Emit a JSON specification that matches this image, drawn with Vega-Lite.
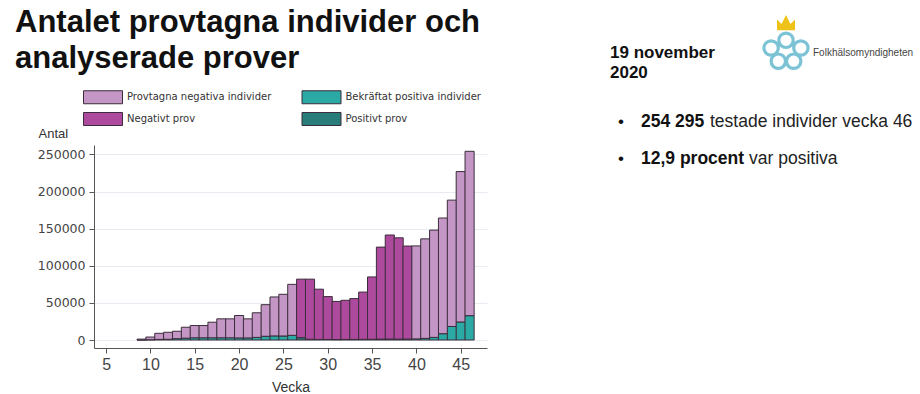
{
  "$schema": "https://vega.github.io/schema/vega-lite/v6.json",
  "width": 393,
  "height": 203,
  "autosize": {"type": "none"},
  "padding": {"left": 94, "top": 145, "right": 433, "bottom": 46},
  "background": "white",
  "title": {
    "text": ["Antalet provtagna individer och", "analyserade prover"],
    "anchor": "start",
    "frame": "group",
    "font": "Liberation Sans",
    "fontSize": 31,
    "fontWeight": "bold",
    "color": "#111111",
    "lineHeight": 36,
    "dx": -79,
    "dy": 70,
    "offset": 10
  },
  "config": {"view": {"stroke": null}},
  "datasets": {
    "tester": [
      {"vecka": 9, "kategori": "Bekräftat positiva individer", "typ": "positiv", "antal": 100},
      {"vecka": 9, "kategori": "Provtagna negativa individer", "typ": "negativ", "antal": 1100},
      {"vecka": 10, "kategori": "Bekräftat positiva individer", "typ": "positiv", "antal": 400},
      {"vecka": 10, "kategori": "Provtagna negativa individer", "typ": "negativ", "antal": 3600},
      {"vecka": 11, "kategori": "Bekräftat positiva individer", "typ": "positiv", "antal": 800},
      {"vecka": 11, "kategori": "Provtagna negativa individer", "typ": "negativ", "antal": 8200},
      {"vecka": 12, "kategori": "Bekräftat positiva individer", "typ": "positiv", "antal": 1000},
      {"vecka": 12, "kategori": "Provtagna negativa individer", "typ": "negativ", "antal": 9400},
      {"vecka": 13, "kategori": "Bekräftat positiva individer", "typ": "positiv", "antal": 1800},
      {"vecka": 13, "kategori": "Provtagna negativa individer", "typ": "negativ", "antal": 10000},
      {"vecka": 14, "kategori": "Bekräftat positiva individer", "typ": "positiv", "antal": 2500},
      {"vecka": 14, "kategori": "Provtagna negativa individer", "typ": "negativ", "antal": 14700},
      {"vecka": 15, "kategori": "Bekräftat positiva individer", "typ": "positiv", "antal": 3000},
      {"vecka": 15, "kategori": "Provtagna negativa individer", "typ": "negativ", "antal": 16500},
      {"vecka": 16, "kategori": "Bekräftat positiva individer", "typ": "positiv", "antal": 3000},
      {"vecka": 16, "kategori": "Provtagna negativa individer", "typ": "negativ", "antal": 16500},
      {"vecka": 17, "kategori": "Bekräftat positiva individer", "typ": "positiv", "antal": 3000},
      {"vecka": 17, "kategori": "Provtagna negativa individer", "typ": "negativ", "antal": 21000},
      {"vecka": 18, "kategori": "Bekräftat positiva individer", "typ": "positiv", "antal": 3000},
      {"vecka": 18, "kategori": "Provtagna negativa individer", "typ": "negativ", "antal": 25500},
      {"vecka": 19, "kategori": "Bekräftat positiva individer", "typ": "positiv", "antal": 3000},
      {"vecka": 19, "kategori": "Provtagna negativa individer", "typ": "negativ", "antal": 25500},
      {"vecka": 20, "kategori": "Bekräftat positiva individer", "typ": "positiv", "antal": 2800},
      {"vecka": 20, "kategori": "Provtagna negativa individer", "typ": "negativ", "antal": 30200},
      {"vecka": 21, "kategori": "Bekräftat positiva individer", "typ": "positiv", "antal": 2800},
      {"vecka": 21, "kategori": "Provtagna negativa individer", "typ": "negativ", "antal": 25700},
      {"vecka": 22, "kategori": "Bekräftat positiva individer", "typ": "positiv", "antal": 3500},
      {"vecka": 22, "kategori": "Provtagna negativa individer", "typ": "negativ", "antal": 33200},
      {"vecka": 23, "kategori": "Bekräftat positiva individer", "typ": "positiv", "antal": 5000},
      {"vecka": 23, "kategori": "Provtagna negativa individer", "typ": "negativ", "antal": 42600},
      {"vecka": 24, "kategori": "Bekräftat positiva individer", "typ": "positiv", "antal": 5500},
      {"vecka": 24, "kategori": "Provtagna negativa individer", "typ": "negativ", "antal": 52500},
      {"vecka": 25, "kategori": "Bekräftat positiva individer", "typ": "positiv", "antal": 5400},
      {"vecka": 25, "kategori": "Provtagna negativa individer", "typ": "negativ", "antal": 56200},
      {"vecka": 26, "kategori": "Bekräftat positiva individer", "typ": "positiv", "antal": 6300},
      {"vecka": 26, "kategori": "Provtagna negativa individer", "typ": "negativ", "antal": 68700},
      {"vecka": 27, "kategori": "Positivt prov", "typ": "positiv", "antal": 3200},
      {"vecka": 27, "kategori": "Negativt prov", "typ": "negativ", "antal": 78800},
      {"vecka": 28, "kategori": "Positivt prov", "typ": "positiv", "antal": 1000},
      {"vecka": 28, "kategori": "Negativt prov", "typ": "negativ", "antal": 81000},
      {"vecka": 29, "kategori": "Positivt prov", "typ": "positiv", "antal": 800},
      {"vecka": 29, "kategori": "Negativt prov", "typ": "negativ", "antal": 67700},
      {"vecka": 30, "kategori": "Positivt prov", "typ": "positiv", "antal": 700},
      {"vecka": 30, "kategori": "Negativt prov", "typ": "negativ", "antal": 57800},
      {"vecka": 31, "kategori": "Positivt prov", "typ": "positiv", "antal": 600},
      {"vecka": 31, "kategori": "Negativt prov", "typ": "negativ", "antal": 51400},
      {"vecka": 32, "kategori": "Positivt prov", "typ": "positiv", "antal": 700},
      {"vecka": 32, "kategori": "Negativt prov", "typ": "negativ", "antal": 52800},
      {"vecka": 33, "kategori": "Positivt prov", "typ": "positiv", "antal": 800},
      {"vecka": 33, "kategori": "Negativt prov", "typ": "negativ", "antal": 55000},
      {"vecka": 34, "kategori": "Positivt prov", "typ": "positiv", "antal": 900},
      {"vecka": 34, "kategori": "Negativt prov", "typ": "negativ", "antal": 63700},
      {"vecka": 35, "kategori": "Positivt prov", "typ": "positiv", "antal": 1000},
      {"vecka": 35, "kategori": "Negativt prov", "typ": "negativ", "antal": 84000},
      {"vecka": 36, "kategori": "Positivt prov", "typ": "positiv", "antal": 1200},
      {"vecka": 36, "kategori": "Negativt prov", "typ": "negativ", "antal": 124000},
      {"vecka": 37, "kategori": "Positivt prov", "typ": "positiv", "antal": 1300},
      {"vecka": 37, "kategori": "Negativt prov", "typ": "negativ", "antal": 140200},
      {"vecka": 38, "kategori": "Positivt prov", "typ": "positiv", "antal": 1200},
      {"vecka": 38, "kategori": "Negativt prov", "typ": "negativ", "antal": 136500},
      {"vecka": 39, "kategori": "Positivt prov", "typ": "positiv", "antal": 1300},
      {"vecka": 39, "kategori": "Negativt prov", "typ": "negativ", "antal": 125300},
      {"vecka": 40, "kategori": "Bekräftat positiva individer", "typ": "positiv", "antal": 1500},
      {"vecka": 40, "kategori": "Provtagna negativa individer", "typ": "negativ", "antal": 125300},
      {"vecka": 41, "kategori": "Bekräftat positiva individer", "typ": "positiv", "antal": 2200},
      {"vecka": 41, "kategori": "Provtagna negativa individer", "typ": "negativ", "antal": 134100},
      {"vecka": 42, "kategori": "Bekräftat positiva individer", "typ": "positiv", "antal": 3500},
      {"vecka": 42, "kategori": "Provtagna negativa individer", "typ": "negativ", "antal": 144600},
      {"vecka": 43, "kategori": "Bekräftat positiva individer", "typ": "positiv", "antal": 8500},
      {"vecka": 43, "kategori": "Provtagna negativa individer", "typ": "negativ", "antal": 155900},
      {"vecka": 44, "kategori": "Bekräftat positiva individer", "typ": "positiv", "antal": 18200},
      {"vecka": 44, "kategori": "Provtagna negativa individer", "typ": "negativ", "antal": 170300},
      {"vecka": 45, "kategori": "Bekräftat positiva individer", "typ": "positiv", "antal": 24300},
      {"vecka": 45, "kategori": "Provtagna negativa individer", "typ": "negativ", "antal": 202700},
      {"vecka": 46, "kategori": "Bekräftat positiva individer", "typ": "positiv", "antal": 32800},
      {"vecka": 46, "kategori": "Provtagna negativa individer", "typ": "negativ", "antal": 221495}
    ]
  },
  "layer": [
    {
      "data": {"name": "tester"},
      "mark": {"type": "bar", "width": 9.1, "stroke": "#3b2d3b", "strokeWidth": 1},
      "encoding": {
        "x": {
          "field": "vecka",
          "type": "quantitative",
          "scale": {"domain": [4.2, 47.4], "nice": false, "zero": false},
          "axis": {
            "values": [5, 10, 15, 20, 25, 30, 35, 40, 45],
            "title": "Vecka",
            "grid": false,
            "domainColor": "#555555",
            "tickColor": "#555555",
            "tickSize": 5,
            "labelFont": "Liberation Sans",
            "labelFontSize": 16,
            "labelColor": "#444444",
            "labelPadding": 3,
            "labelFlush": false,
            "titleFont": "Liberation Sans",
            "titleFontSize": 14,
            "titleFontWeight": "normal",
            "titleColor": "#333333",
            "titlePadding": 8
          }
        },
        "y": {
          "field": "antal",
          "type": "quantitative",
          "stack": "zero",
          "scale": {"domain": [-10780, 262800], "nice": false, "zero": false},
          "axis": {
            "values": [0, 50000, 100000, 150000, 200000, 250000],
            "format": "d",
            "title": "Antal",
            "titleAngle": 0,
            "titleAlign": "left",
            "titleBaseline": "alphabetic",
            "titleX": -56,
            "titleY": -8,
            "titleFont": "Liberation Sans",
            "titleFontSize": 13,
            "titleFontWeight": "normal",
            "titleColor": "#333333",
            "grid": true,
            "gridColor": "#e8ecf2",
            "domainColor": "#555555",
            "tickColor": "#555555",
            "tickSize": 5,
            "labelFont": "DejaVu Sans",
            "labelFontSize": 12.5,
            "labelColor": "#444444",
            "labelPadding": 4
          }
        },
        "color": {
          "field": "kategori",
          "type": "nominal",
          "scale": {
            "domain": ["Provtagna negativa individer", "Bekräftat positiva individer", "Negativt prov", "Positivt prov"],
            "range": ["#c496c6", "#2aa9a5", "#ad4a9d", "#287c79"]
          },
          "legend": {
            "orient": "none",
            "legendX": -11,
            "legendY": -55,
            "columns": 2,
            "direction": "horizontal",
            "title": null,
            "symbolType": "M-1,-1H5V1H-1Z",
            "symbolSize": 169,
            "symbolStrokeColor": "#3b2d3b",
            "symbolStrokeWidth": 1,
            "symbolOpacity": 1,
            "labelFont": "DejaVu Sans",
            "labelFontSize": 10,
            "labelColor": "#333333",
            "labelOffset": 30,
            "labelLimit": 300,
            "columnPadding": 27.5,
            "rowPadding": 4,
            "padding": 0
          }
        },
        "order": {"field": "typ", "sort": "descending"}
      }
    },
    {
      "data": {"values": [{}]},
      "mark": {"type": "text", "text": "19 november", "font": "Liberation Sans", "fontWeight": "bold", "fontSize": 17, "align": "left", "baseline": "alphabetic", "color": "#111111"},
      "encoding": {"x": {"value": 516}, "y": {"value": -87}}
    },
    {
      "data": {"values": [{}]},
      "mark": {"type": "text", "text": "2020", "font": "Liberation Sans", "fontWeight": "bold", "fontSize": 17, "align": "left", "baseline": "alphabetic", "color": "#111111"},
      "encoding": {"x": {"value": 516}, "y": {"value": -67}}
    },
    {
      "data": {"values": [{}]},
      "mark": {"type": "text", "text": "•", "font": "Liberation Sans", "fontSize": 17, "align": "center", "baseline": "alphabetic", "color": "#111111"},
      "encoding": {"x": {"value": 527}, "y": {"value": -18}}
    },
    {
      "data": {"values": [{}]},
      "mark": {"type": "text", "text": "254 295", "font": "Liberation Sans", "fontWeight": "bold", "fontSize": 17.5, "align": "left", "baseline": "alphabetic", "color": "#111111"},
      "encoding": {"x": {"value": 547}, "y": {"value": -18}}
    },
    {
      "data": {"values": [{}]},
      "mark": {"type": "text", "text": "testade individer vecka 46", "font": "Liberation Sans", "fontSize": 17.5, "align": "left", "baseline": "alphabetic", "color": "#222222"},
      "encoding": {"x": {"value": 616}, "y": {"value": -18}}
    },
    {
      "data": {"values": [{}]},
      "mark": {"type": "text", "text": "•", "font": "Liberation Sans", "fontSize": 17, "align": "center", "baseline": "alphabetic", "color": "#111111"},
      "encoding": {"x": {"value": 527}, "y": {"value": 19}}
    },
    {
      "data": {"values": [{}]},
      "mark": {"type": "text", "text": "12,9 procent", "font": "Liberation Sans", "fontWeight": "bold", "fontSize": 17.5, "align": "left", "baseline": "alphabetic", "color": "#111111"},
      "encoding": {"x": {"value": 547}, "y": {"value": 19}}
    },
    {
      "data": {"values": [{}]},
      "mark": {"type": "text", "text": "var positiva", "font": "Liberation Sans", "fontSize": 17.5, "align": "left", "baseline": "alphabetic", "color": "#222222"},
      "encoding": {"x": {"value": 655}, "y": {"value": 19}}
    },
    {
      "data": {"values": [{}]},
      "mark": {"type": "text", "text": "Folkhälsomyndigheten", "font": "Liberation Sans", "fontSize": 10, "align": "left", "baseline": "middle", "color": "#444444"},
      "encoding": {"x": {"value": 719}, "y": {"value": -92}}
    },
    {
      "data": {"values": [{}]},
      "mark": {"type": "point", "filled": false, "strokeWidth": 3.2, "color": "#7cc3d6", "opacity": 1, "size": 2304,
        "shape": "M-0.92,0a0.3,0.3 0 1,0 0.6,0a0.3,0.3 0 1,0 -0.6,0M0.32,0a0.3,0.3 0 1,0 0.6,0a0.3,0.3 0 1,0 -0.6,0M-0.3,-0.32a0.3,0.3 0 1,0 0.6,0a0.3,0.3 0 1,0 -0.6,0M-0.62,0.55a0.3,0.3 0 1,0 0.6,0a0.3,0.3 0 1,0 -0.6,0M0.02,0.55a0.3,0.3 0 1,0 0.6,0a0.3,0.3 0 1,0 -0.6,0"},
      "encoding": {"x": {"value": 692}, "y": {"value": -97}}
    },
    {
      "data": {"values": [{}]},
      "mark": {"type": "point", "filled": true, "color": "#efc21a", "opacity": 1, "size": 324,
        "shape": "M-1,0.8L-1,-0.4L-0.5,0.1L0,-0.9L0.5,0.1L1,-0.4L1,0.8Z"},
      "encoding": {"x": {"value": 692}, "y": {"value": -122}}
    }
  ]
}
